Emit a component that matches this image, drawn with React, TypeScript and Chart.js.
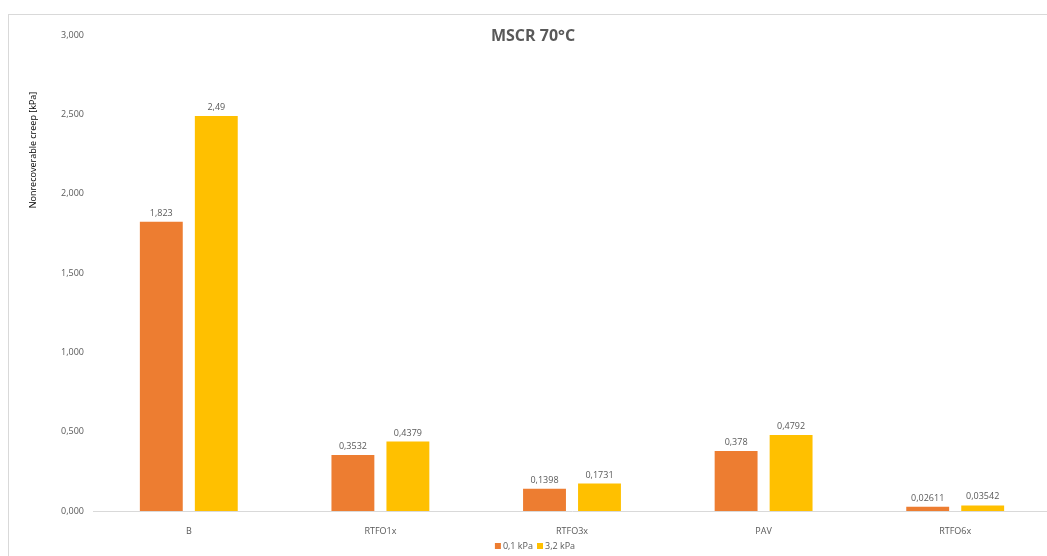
import React, { useEffect, useRef } from "react";
import { Chart, registerables } from "chart.js";

Chart.register(...registerables);

const categories = ["B", "RTFO1x", "RTFO3x", "PAV", "RTFO6x"];
const series01 = [1.823, 0.3532, 0.1398, 0.378, 0.02611];
const series32 = [2.49, 0.4379, 0.1731, 0.4792, 0.03542];
const seriesNames = ["0,1 kPa", "3,2 kPa"];
const seriesColors = ["#ED7D31", "#FFC000"];
const yTicks = [0, 0.5, 1, 1.5, 2, 2.5, 3];
const chartTitle = "MSCR 70°C";
const yTitle = "Nonrecoverable creep [kPa]";

const FONT = "'Open Sans', 'Liberation Sans', sans-serif";
const TXT = "#595959";

const fmt = (v: number) => String(v).replace(".", ",");

const overlayPlugin = {
  id: "overlay",
  afterDatasetsDraw(chart: any) {
    const ctx = chart.ctx;
    ctx.save();
    // data labels
    ctx.font = `9px ${FONT}`;
    ctx.fillStyle = TXT;
    ctx.textAlign = "center";
    ctx.textBaseline = "bottom";
    chart.data.datasets.forEach((ds: any, i: number) => {
      const meta = chart.getDatasetMeta(i);
      meta.data.forEach((el: any, j: number) => {
        ctx.fillText(fmt(ds.data[j]), el.x, el.y - 4);
      });
    });
    // title
    ctx.font = `bold 16px ${FONT}`;
    ctx.fillStyle = TXT;
    ctx.textBaseline = "middle";
    ctx.fillText(chartTitle, 524, 21);
    // y title
    ctx.save();
    ctx.translate(24, 135);
    ctx.rotate(-Math.PI / 2);
    ctx.font = `9px ${FONT}`;
    ctx.fillStyle = "#000000";
    ctx.textAlign = "center";
    ctx.textBaseline = "middle";
    ctx.fillText(yTitle, 0, 0);
    ctx.restore();
    // legend
    ctx.font = `9px ${FONT}`;
    ctx.textAlign = "left";
    ctx.textBaseline = "middle";
    const ly = 531;
    const widths = seriesNames.map((n) => ctx.measureText(n).width);
    const box = 6;
    const gapBox = 2;
    const gapItem = 4;
    const total = widths.reduce((a, w) => a + box + gapBox + w, 0) + gapItem;
    let x = 526 - total / 2;
    seriesNames.forEach((n, i) => {
      ctx.fillStyle = seriesColors[i];
      ctx.fillRect(x, ly - box / 2, box, box);
      x += box + gapBox;
      ctx.fillStyle = TXT;
      ctx.fillText(n, x, ly);
      x += widths[i] + gapItem;
    });
    ctx.restore();
  },
};

export default function App() {
  const ref = useRef<HTMLCanvasElement | null>(null);
  useEffect(() => {
    if (!ref.current) return;
    const chart = new Chart(ref.current, {
      type: "bar",
      data: {
        labels: categories,
        datasets: [
          { label: seriesNames[0], data: series01, backgroundColor: seriesColors[0] },
          { label: seriesNames[1], data: series32, backgroundColor: seriesColors[1] },
        ],
      },
      options: {
        animation: false,
        responsive: false,
        layout: { padding: { top: 20, right: 18, left: 0, bottom: 0 } },
        datasets: { bar: { categoryPercentage: 0.574, barPercentage: 0.78 } },
        plugins: { legend: { display: false }, title: { display: false }, tooltip: { enabled: false } },
        scales: {
          x: {
            grid: { display: false },
            border: { display: true, color: "#d9d9d9", width: 1 },
            ticks: { color: TXT, font: { family: FONT, size: 9 }, padding: 7 },
            afterFit: (s: any) => { s.height = 64; },
          },
          y: {
            min: 0,
            max: 3,
            grid: { display: false, drawTicks: false },
            border: { display: false },
            afterBuildTicks: (s: any) => { s.ticks = yTicks.map((v) => ({ value: v })); },
            ticks: {
              color: TXT,
              font: { family: FONT, size: 9 },
              padding: 9,
              callback: (v: any) => Number(v).toFixed(3).replace(".", ","),
            },
            afterFit: (s: any) => { s.width = 84; },
          },
        },
      },
      plugins: [overlayPlugin],
    });
    return () => chart.destroy();
  }, []);
  return (
    <div
      style={{
        position: "fixed",
        left: 8,
        top: 14,
        width: 1100,
        height: 600,
        border: "1px solid #d9d9d9",
        background: "#fff",
        overflow: "hidden",
      }}
    >
      <canvas ref={ref} width={1060} height={560} style={{ display: "block" }} />
    </div>
  );
}
